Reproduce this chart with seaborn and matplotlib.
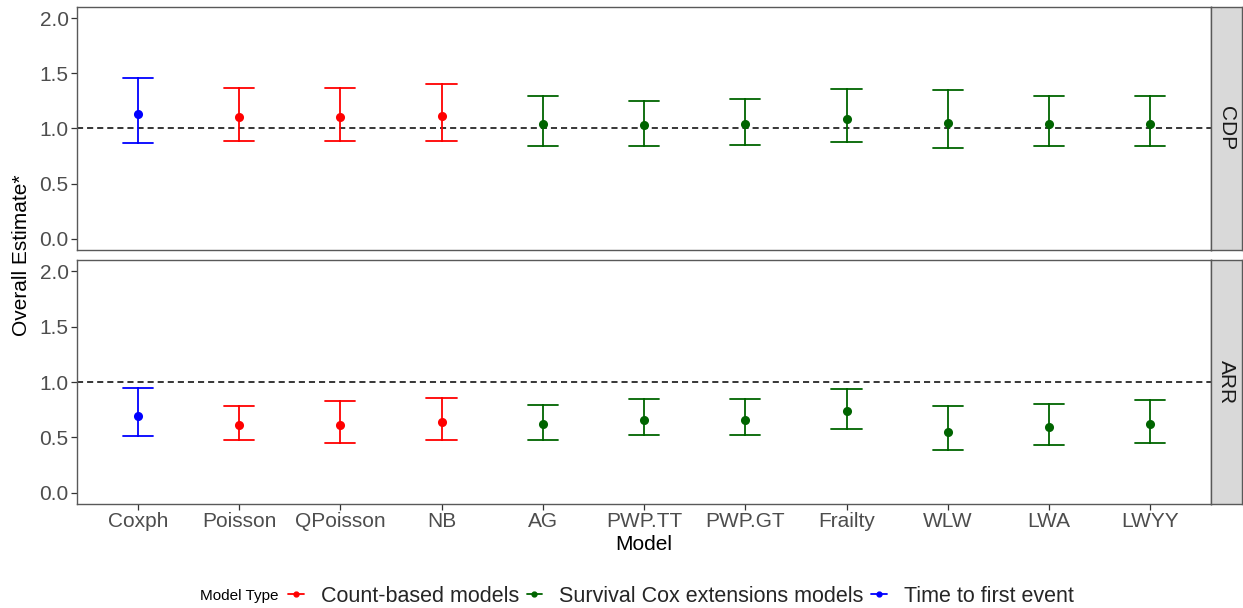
import numpy as np
import pandas as pd
import matplotlib.pyplot as plt
from matplotlib.lines import Line2D
from matplotlib.ticker import FormatStrFormatter
import seaborn as sns

sns.set_style("white")
plt.rcParams['font.family'] = ['Liberation Sans', 'DejaVu Sans']

models = ["Coxph", "Poisson", "QPoisson", "NB", "AG", "PWP.TT", "PWP.GT",
          "Frailty", "WLW", "LWA", "LWYY"]
model_types = (["Time to first event"] + ["Count-based models"] * 3
               + ["Survival Cox extensions models"] * 7)
type_order = ["Count-based models", "Survival Cox extensions models", "Time to first event"]
type_colors = {"Count-based models": "#FF0000",
               "Survival Cox extensions models": "#006400",
               "Time to first event": "#0000FF"}

outcomes = ["CDP", "ARR"]

cdp_est = [1.13, 1.10, 1.10, 1.11, 1.04, 1.03, 1.04, 1.09, 1.05, 1.04, 1.04]
cdp_low = [0.87, 0.89, 0.89, 0.89, 0.84, 0.84, 0.85, 0.88, 0.82, 0.84, 0.84]
cdp_high = [1.46, 1.37, 1.37, 1.40, 1.29, 1.25, 1.27, 1.36, 1.35, 1.29, 1.29]

arr_est = [0.69, 0.61, 0.61, 0.64, 0.62, 0.66, 0.66, 0.74, 0.55, 0.59, 0.62]
arr_low = [0.51, 0.48, 0.45, 0.48, 0.48, 0.52, 0.52, 0.58, 0.39, 0.43, 0.45]
arr_high = [0.95, 0.78, 0.83, 0.86, 0.79, 0.85, 0.85, 0.94, 0.78, 0.80, 0.84]

# long table: low / estimate / high per model, median = estimate, range = CI
rows = []
for outcome, est, low, high in [("CDP", cdp_est, cdp_low, cdp_high),
                                ("ARR", arr_est, arr_low, arr_high)]:
    for m, t, e, lo, hi in zip(models, model_types, est, low, high):
        for v in (lo, e, hi):
            rows.append({"outcome": outcome, "Model": m, "type": t, "value": v})
df = pd.DataFrame(rows)

W, H = 1243, 608
fig = plt.figure(figsize=(W / 100, H / 100), dpi=100)

left, right = 77, 1211
panels = {"CDP": (7, 250), "ARR": (260, 504)}
border = "#595959"

for outcome in outcomes:
    top, bottom = panels[outcome]
    ax = fig.add_axes([left / W, 1 - bottom / H, (right - left) / W, (bottom - top) / H])
    ax.axhline(1, color="black", lw=1.1, ls=(0, (4, 2.6)), zorder=1)
    sns.pointplot(data=df[df.outcome == outcome], x="Model", y="value",
                  hue="type", hue_order=type_order, palette=type_colors,
                  order=models, estimator="median",
                  errorbar=lambda v: (v.min(), v.max()),
                  dodge=False, linestyle="none", capsize=0.3,
                  err_kws={"linewidth": 1.3}, markersize=4.5,
                  legend=False, ax=ax, zorder=3)
    ax.set_xlim(-0.6, len(models) - 0.4)
    ax.set_ylim(-0.1, 2.1)
    ax.set_yticks([0, 0.5, 1.0, 1.5, 2.0])
    ax.yaxis.set_major_formatter(FormatStrFormatter("%.1f"))
    ax.set_xlabel("")
    ax.set_ylabel("")
    for s in ax.spines.values():
        s.set_color(border)
        s.set_linewidth(1.0)
    ax.tick_params(axis="both", length=4, width=0.9, color="#333333",
                   labelsize=15, labelcolor="#4D4D4D", pad=2)
    ax.tick_params(axis="y", left=True)
    ax.tick_params(axis="x", bottom=True)
    ax.grid(False)
    if outcome == "CDP":
        ax.tick_params(axis="x", bottom=False, labelbottom=False)

    # facet strip on the right
    sax = fig.add_axes([right / W, 1 - bottom / H, (W - 1 - right) / W, (bottom - top) / H])
    sax.set_facecolor("#D9D9D9")
    sax.set_xticks([])
    sax.set_yticks([])
    for s in sax.spines.values():
        s.set_color(border)
        s.set_linewidth(1.0)
    sax.text(0.5, 0.5, outcome, rotation=-90, ha="center", va="center",
             fontsize=15, color="#1A1A1A", transform=sax.transAxes)

fig.text(22 / W, 1 - 255 / H, "Overall Estimate*", rotation=90,
         ha="center", va="center", fontsize=15, color="black")
fig.text((left + right) / 2 / W, 1 - 545 / H, "Model",
         ha="center", va="center", fontsize=15, color="black")

handles = [Line2D([0], [0], color=type_colors[t], marker="o", markersize=3.5,
                  lw=1.3) for t in type_order]
fig.text(200 / W, 1 - 596 / H, "Model Type", ha="left", va="center",
         fontsize=11, color="black")
fig.legend(handles, type_order, loc="center left",
           bbox_to_anchor=(288 / W, 1 - 596 / H), ncol=3, frameon=False,
           fontsize=15.5, handlelength=0.72, handletextpad=0.8,
           columnspacing=0.35, borderaxespad=0, borderpad=0)

fig.savefig("out.png", dpi=100)
